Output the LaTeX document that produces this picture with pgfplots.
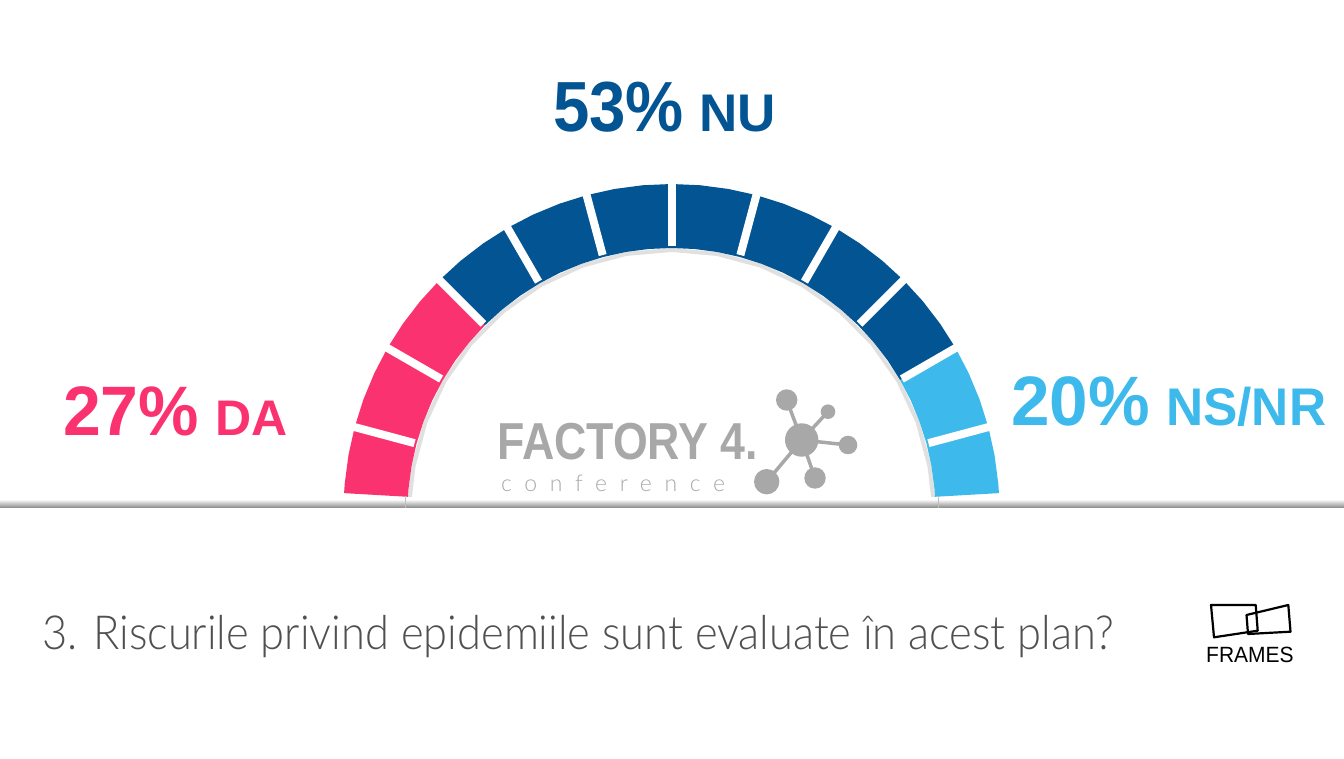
\documentclass[border=0pt]{standalone}
\usepackage{pgfplots}
\pgfplotsset{compat=1.18}
\usepackage{fontspec}
\setmainfont{Liberation Sans}
\newfontfamily\lightf{Lato Light}
\definecolor{cpink}{HTML}{FA3270}
\definecolor{cdark}{HTML}{035493}
\definecolor{clight}{HTML}{3DBAEB}
\definecolor{qgray}{HTML}{505050}
\definecolor{lgray}{HTML}{A8A8A8}
\begin{document}
\begin{tikzpicture}[x=1pt,y=1pt]
\useasboundingbox (0,0) rectangle (1344,758);
% horizon line
\shade[top color=black!4, bottom color=black!48] (0,250) rectangle (1344,258);
\begin{axis}[at={(0,0)}, anchor=south west, scale only axis, x=1pt, y=1pt,
  xmin=-671.5, xmax=672.5, ymin=-246, ymax=512, hide axis, clip=false]
% DA 27% : 3 of 12 segments
\addplot[fill=cpink, draw=none, data cs=polar] coordinates {
 (176.7,328) (175,328) (170,328) (165,328) (160,328) (155,328) (150,328) (145,328) (140,328) (135,328)
 (135,264) (140,264) (145,264) (150,264) (155,264) (160,264) (165,264) (170,264) (175,264) (176.7,264)} -- cycle;
% NU 53% : 7 of 12 segments
\addplot[fill=cdark, draw=none, data cs=polar] coordinates {
 (135,328) (130,328) (125,328) (120,328) (115,328) (110,328) (105,328) (100,328) (95,328) (90,328) (85,328)
 (80,328) (75,328) (70,328) (65,328) (60,328) (55,328) (50,328) (45,328) (40,328) (35,328) (30,328)
 (30,264) (35,264) (40,264) (45,264) (50,264) (55,264) (60,264) (65,264) (70,264) (75,264) (80,264)
 (85,264) (90,264) (95,264) (100,264) (105,264) (110,264) (115,264) (120,264) (125,264) (130,264) (135,264)} -- cycle;
% NS/NR 20% : 2 of 12 segments
\addplot[fill=clight, draw=none, data cs=polar] coordinates {
 (30,328) (25,328) (20,328) (15,328) (10,328) (5,328) (3.3,328)
 (3.3,264) (5,264) (10,264) (15,264) (20,264) (25,264) (30,264)} -- cycle;
% inner shadow
\addplot[draw=black, opacity=0.12, line width=4pt, data cs=polar] coordinates {
 (176.7,262) (170,262) (160,262) (150,262) (140,262) (130,262) (120,262) (110,262) (100,262) (90,262)
 (80,262) (70,262) (60,262) (50,262) (40,262) (30,262) (20,262) (10,262) (3.3,262)};
% separators
\addplot[draw=white, line width=8pt, data cs=polar] coordinates {(165,266) (165,345)};
\addplot[draw=white, line width=8pt, data cs=polar] coordinates {(150,266) (150,345)};
\addplot[draw=white, line width=8pt, data cs=polar] coordinates {(135,266) (135,345)};
\addplot[draw=white, line width=8pt, data cs=polar] coordinates {(120,266) (120,345)};
\addplot[draw=white, line width=8pt, data cs=polar] coordinates {(105,266) (105,345)};
\addplot[draw=white, line width=8pt, data cs=polar] coordinates {(90,266) (90,345)};
\addplot[draw=white, line width=8pt, data cs=polar] coordinates {(75,266) (75,345)};
\addplot[draw=white, line width=8pt, data cs=polar] coordinates {(60,266) (60,345)};
\addplot[draw=white, line width=8pt, data cs=polar] coordinates {(45,266) (45,345)};
\addplot[draw=white, line width=8pt, data cs=polar] coordinates {(30,266) (30,345)};
\addplot[draw=white, line width=8pt, data cs=polar] coordinates {(15,266) (15,345)};
\end{axis}
% faint inner edge lines down to horizon
\draw[black!25, line width=1pt] (405,250) -- (405,262);
\draw[black!25, line width=1pt] (938,250) -- (938,262);
% labels
\node[anchor=base west, inner sep=0, text=cdark, font=\fontsize{71}{71}\selectfont\bfseries] at (553,626) {\scalebox{0.92}[1]{53\%}};
\node[anchor=base west, inner sep=0, text=cdark, font=\fontsize{53}{53}\selectfont\bfseries] at (699,626) {NU};
\node[anchor=base west, inner sep=0, text=cpink, font=\fontsize{70}{70}\selectfont\bfseries] at (63,322) {\scalebox{0.97}[1]{27\%}};
\node[anchor=base west, inner sep=0, text=cpink, font=\fontsize{50}{50}\selectfont\bfseries] at (215,322) {DA};
\node[anchor=base west, inner sep=0, text=clight, font=\fontsize{70}{70}\selectfont\bfseries] at (1011,332) {\scalebox{0.99}[1]{20\%}};
\node[anchor=base west, inner sep=0, text=clight, font=\fontsize{53}{53}\selectfont\bfseries] at (1166,332) {\scalebox{0.97}[1]{NS/NR}};
% question
\node[anchor=base west, inner sep=0, text=qgray, font=\fontsize{47}{47}\selectfont\lightf] at (42,108) {\scalebox{0.924}[1]{3. Riscurile privind epidemiile sunt evaluate în acest plan?}};
% FACTORY 4. logo
\node[anchor=base west, inner sep=0, text=lgray, font=\fontsize{52}{52}\selectfont\bfseries] at (497,298) {\scalebox{0.86}[1]{FACTORY 4.}};
\node[anchor=base west, inner sep=0, text=lgray, font=\fontsize{23}{23}\selectfont\lightf\addfontfeature{LetterSpace=55}] at (501,266) {conference};
\begin{scope}[lgray, line width=3.5pt]
\draw (801.7,318) -- (786.7,358);
\draw (801.7,318) -- (828,346.3);
\draw (801.7,318) -- (848,313);
\draw (801.7,318) -- (815,280);
\draw (801.7,318) -- (766.7,276.3);
\fill (801.7,318) circle (16.7);
\fill (786.7,358) circle (10.7);
\fill (828,346.3) circle (7.3);
\fill (848,313) circle (9.3);
\fill (815,280) circle (10.7);
\fill (766.7,276.3) circle (12.7);
\end{scope}
% FRAMES logo
\draw[black, line width=2.2pt, line join=round] (1211,153) -- (1255.7,153) -- (1257.7,127.3) -- (1214,120.7) -- cycle;
\draw[black, line width=2.2pt, line join=round] (1246.5,143) -- (1288.3,153) -- (1290.5,126.3) -- (1248,124) -- cycle;
\node[anchor=base west, inner sep=0, text=black, font=\fontsize{21}{21}\selectfont] at (1206,96) {\scalebox{1}[1.05]{FRAMES}};
\end{tikzpicture}
\end{document}
